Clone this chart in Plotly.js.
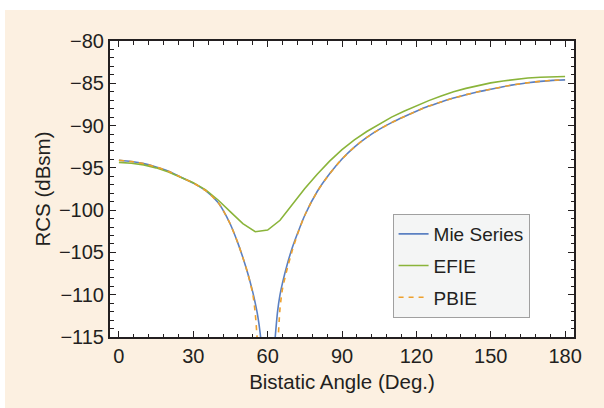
<!DOCTYPE html>
<html>
<head>
<meta charset="utf-8">
<script src="https://cdn.plot.ly/plotly-3.0.1.min.js"></script>
<style>
  html, body { margin: 0; padding: 0; background: #ffffff; width: 604px; height: 408px; overflow: hidden; }
  #chart { position: absolute; left: 5px; top: 10px; width: 599px; height: 398px; }
</style>
</head>
<body>
<div id="chart"></div>
<script>
// Bistatic RCS data
const mieAngle = [0, 5, 10, 15, 20, 25, 30, 35, 40, 42, 45, 48, 50, 52, 54, 55, 56, 57, 58, 59, 60, 61, 62, 63, 64, 65, 66, 68, 70, 72, 75, 80, 85, 90, 95, 100, 105, 110, 115, 120, 125, 130, 135, 140, 145, 150, 155, 160, 165, 170, 175, 180];
const mieRCS   = [-94.1, -94.25, -94.5, -94.9, -95.4, -96.1, -96.8, -97.7, -99.1, -100.0, -101.7, -103.9, -105.6, -107.5, -109.7, -111.0, -112.5, -114.6, -118, -124, -140, -126, -119, -115.2, -112.0, -110.0, -108.6, -106.3, -104.4, -102.8, -100.6, -97.8, -95.7, -93.95, -92.55, -91.4, -90.45, -89.65, -88.95, -88.3, -87.7, -87.2, -86.75, -86.35, -86.0, -85.7, -85.4, -85.15, -84.93, -84.77, -84.65, -84.6];

const efieAngle = [0, 5, 10, 15, 20, 25, 30, 35, 40, 45, 50, 55, 60, 65, 70, 75, 80, 85, 90, 95, 100, 105, 110, 115, 120, 125, 130, 135, 140, 145, 150, 155, 160, 165, 170, 175, 180];
const efieRCS   = [-94.35, -94.45, -94.65, -95.0, -95.5, -96.1, -96.75, -97.6, -98.8, -100.2, -101.6, -102.55, -102.35, -101.2, -99.3, -97.45, -95.75, -94.2, -92.85, -91.7, -90.7, -89.8, -89.0, -88.3, -87.65, -87.05, -86.5, -86.0, -85.6, -85.25, -84.95, -84.72, -84.52, -84.38, -84.28, -84.22, -84.2];

const pbieAngle = [0, 5, 10, 15, 20, 25, 30, 35, 40, 42, 45, 48, 50, 52, 54, 55, 56, 57, 58, 60, 62, 63, 64, 65, 66, 68, 70, 72, 75, 80, 85, 90, 95, 100, 105, 110, 115, 120, 125, 130, 135, 140, 145, 150, 155, 160, 165, 170, 175, 180];
const pbieRCS   = [-94.1, -94.25, -94.5, -94.9, -95.4, -96.1, -96.8, -97.7, -99.1, -100.0, -101.7, -103.9, -105.6, -107.5, -109.9, -112.2, -116.2, -121, -127, -140, -129, -121, -116.5, -111.6, -109.3, -106.8, -104.7, -102.9, -100.6, -97.8, -95.7, -93.95, -92.55, -91.4, -90.45, -89.65, -88.95, -88.3, -87.7, -87.2, -86.75, -86.35, -86.0, -85.7, -85.4, -85.15, -84.93, -84.77, -84.65, -84.6];

const seriesNames = ["Mie Series", "EFIE", "PBIE"];
const xTickVals = [0, 30, 60, 90, 120, 150, 180];
const yTickVals = [-115, -110, -105, -100, -95, -90, -85, -80];

const fontFam = "Liberation Sans, Arial, Helvetica, sans-serif";
const ink = "#231f20";

const traces = [
  { x: mieAngle, y: mieRCS, name: seriesNames[0], type: "scatter", mode: "lines",
    line: { color: "#5b80c2", width: 1.6, shape: "spline", smoothing: 0.7 }, legendgroup: "a" },
  { x: efieAngle, y: efieRCS, name: seriesNames[1], type: "scatter", mode: "lines",
    line: { color: "#8ab43a", width: 1.6 }, legendgroup: "b" },
  { x: pbieAngle, y: pbieRCS, name: seriesNames[2], type: "scatter", mode: "lines",
    line: { color: "#eea02c", width: 1.6, dash: "5px,5px", shape: "spline", smoothing: 0.7 }, legendgroup: "c" }
];

const layout = {
  width: 599, height: 398,
  margin: { l: 105, r: 30, t: 31, b: 71 },
  paper_bgcolor: "#fcf0e1",
  plot_bgcolor: "#ffffff",
  font: { family: fontFam, color: ink, size: 20 },
  showlegend: true,
  legend: {
    x: 0.609, y: 0.4155, xanchor: "left", yanchor: "top",
    bgcolor: "#f4f5f5", bordercolor: "#a0a0a0", borderwidth: 1,
    font: { family: fontFam, size: 19, color: ink },
    traceorder: "grouped", tracegroupgap: 4, itemwidth: 30
  },
  xaxis: {
    range: [-3.6, 183.6], tickvals: xTickVals, ticktext: xTickVals.map(String),
    ticks: "inside", ticklen: 6, tickwidth: 1, tickcolor: ink,
    minor: { dtick: 6, tick0: 0, ticks: "inside", ticklen: 3.5, tickwidth: 1, tickcolor: ink },
    showline: true, linecolor: ink, linewidth: 2, mirror: "ticks",
    showgrid: false, zeroline: false,
    tickfont: { family: fontFam, size: 20, color: ink },
    title: { text: "Bistatic Angle (Deg.)", font: { family: fontFam, size: 20.5, color: ink }, standoff: 9 }
  },
  yaxis: {
    range: [-115, -80], tickvals: yTickVals,
    ticks: "inside", ticklen: 6, tickwidth: 1, tickcolor: ink,
    minor: { dtick: 1, tick0: 0, ticks: "inside", ticklen: 3.5, tickwidth: 1, tickcolor: ink },
    showline: true, linecolor: ink, linewidth: 2, mirror: "ticks",
    showgrid: false, zeroline: false,
    tickfont: { family: fontFam, size: 20, color: ink },
    title: { text: "RCS (dBsm)", font: { family: fontFam, size: 20.5, color: ink }, standoff: 3 }
  }
};

Plotly.newPlot("chart", traces, layout, { staticPlot: true, displayModeBar: false });
</script>
</body>
</html>
